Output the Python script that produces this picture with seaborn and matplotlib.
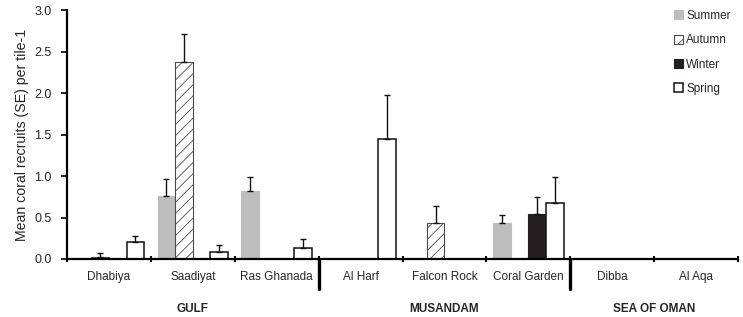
import numpy as np
import pandas as pd
import seaborn as sns
import matplotlib.pyplot as plt

# Mean coral recruits per tile by site and season
sites = ["Dhabiya", "Saadiyat", "Ras Ghanada", "Al Harf", "Falcon Rock",
         "Coral Garden", "Dibba", "Al Aqa"]
regions = ["GULF", "MUSANDAM", "SEA OF OMAN"]
region_sizes = [3, 3, 2]
seasons = ["Summer", "Autumn", "Winter", "Spring"]

nan = np.nan
summer = [nan, 0.76, 0.82, nan, nan, 0.43, nan, nan]
summer_se = [nan, 0.20, 0.17, nan, nan, 0.10, nan, nan]
autumn = [0.03, 2.37, nan, nan, 0.43, nan, nan, nan]
autumn_se = [0.04, 0.34, nan, nan, 0.21, nan, nan, nan]
winter = [nan, nan, nan, nan, nan, 0.54, nan, nan]
winter_se = [nan, nan, nan, nan, nan, 0.21, nan, nan]
spring = [0.20, 0.08, 0.13, 1.45, nan, 0.68, nan, nan]
spring_se = [0.08, 0.09, 0.11, 0.53, nan, 0.31, nan, nan]

means = {"Summer": summer, "Autumn": autumn, "Winter": winter, "Spring": spring}
ses = {"Summer": summer_se, "Autumn": autumn_se, "Winter": winter_se, "Spring": spring_se}

df = pd.DataFrame({
    "site": sites * 4,
    "season": np.repeat(seasons, len(sites)),
    "mean": sum((means[s] for s in seasons), []),
})

sns.set_style("ticks")
plt.rcParams["font.family"] = ["Liberation Sans", "DejaVu Sans"]
plt.rcParams["hatch.linewidth"] = 0.6

fig = plt.figure(figsize=(7.43, 3.17), dpi=100)
ax = fig.add_axes([0.0902, 0.183, 0.9031, 0.785])

face = {"Summer": "#bdbdbd", "Autumn": "white", "Winter": "#231f20", "Spring": "white"}
edge = {"Summer": "#bdbdbd", "Autumn": "#4a4a4a", "Winter": "#231f20", "Spring": "#111111"}

sns.barplot(data=df, x="site", y="mean", hue="season", order=sites,
            hue_order=seasons, width=0.84, errorbar=None, legend=False,
            palette=face, ax=ax)

# style each season's bars and add one-sided SE bars
for season, cont in zip(seasons, ax.containers):
    for bar in cont.patches:
        bar.set_facecolor(face[season])
        bar.set_edgecolor(edge[season])
        bar.set_linewidth(1.1 if season == "Spring" else 0.8)
        if season == "Autumn":
            bar.set_hatch("///")
        h = bar.get_height()
        if np.isnan(h):
            continue
        xc = bar.get_x() + bar.get_width() / 2
        se = ses[season][int(round(xc))]
        ax.errorbar(xc, h, yerr=[[0], [se]], fmt="none", ecolor="#111111",
                    elinewidth=1.0, capsize=2, capthick=1.0, zorder=1)

ax.set_ylim(0, 3.0)
ax.set_yticks(np.arange(0, 3.01, 0.5))
ax.set_yticklabels([f"{v:.1f}" for v in np.arange(0, 3.01, 0.5)])
ax.set_ylabel("Mean coral recruits (SE) per tile-1", fontsize=10.2, labelpad=4)
ax.set_xlabel("")

ax.set_xlim(-0.5, len(sites) - 0.5)
ax.set_xticks(range(len(sites)))
ax.set_xticklabels(sites, fontsize=8.5)
ax.tick_params(axis="x", length=0, pad=9)
ax.set_xticks(np.arange(-0.5, len(sites)), minor=True)
ax.tick_params(axis="x", which="minor", direction="inout", length=5, width=1.5,
               color="black")
ax.tick_params(axis="y", direction="out", length=4, width=1.2, color="black",
               labelsize=9, pad=7)

for side in ["top", "right"]:
    ax.spines[side].set_visible(False)
for side in ["left", "bottom"]:
    ax.spines[side].set_color("black")
    ax.spines[side].set_linewidth(1.6)

# region separators and region names
bounds = np.cumsum([0] + region_sizes) - 0.5
for b in bounds[1:-1]:
    ax.axvline(b, ymin=-0.12, ymax=0, color="black", linewidth=2.4,
               clip_on=False)
trans = ax.get_xaxis_transform()
for name, lo, hi in zip(regions, bounds[:-1], bounds[1:]):
    ax.text((lo + hi) / 2, -0.2, name, transform=trans, ha="center",
            va="center", fontsize=8.5, fontweight="bold")

ax.legend(ax.containers, seasons, loc="upper right", frameon=False,
          fontsize=8.5, handlelength=0.8, handleheight=0.8, handletextpad=0.25,
          labelspacing=1.05, bbox_to_anchor=(1.0, 1.03), borderaxespad=0.2)

fig.savefig("out.png", dpi=100)
